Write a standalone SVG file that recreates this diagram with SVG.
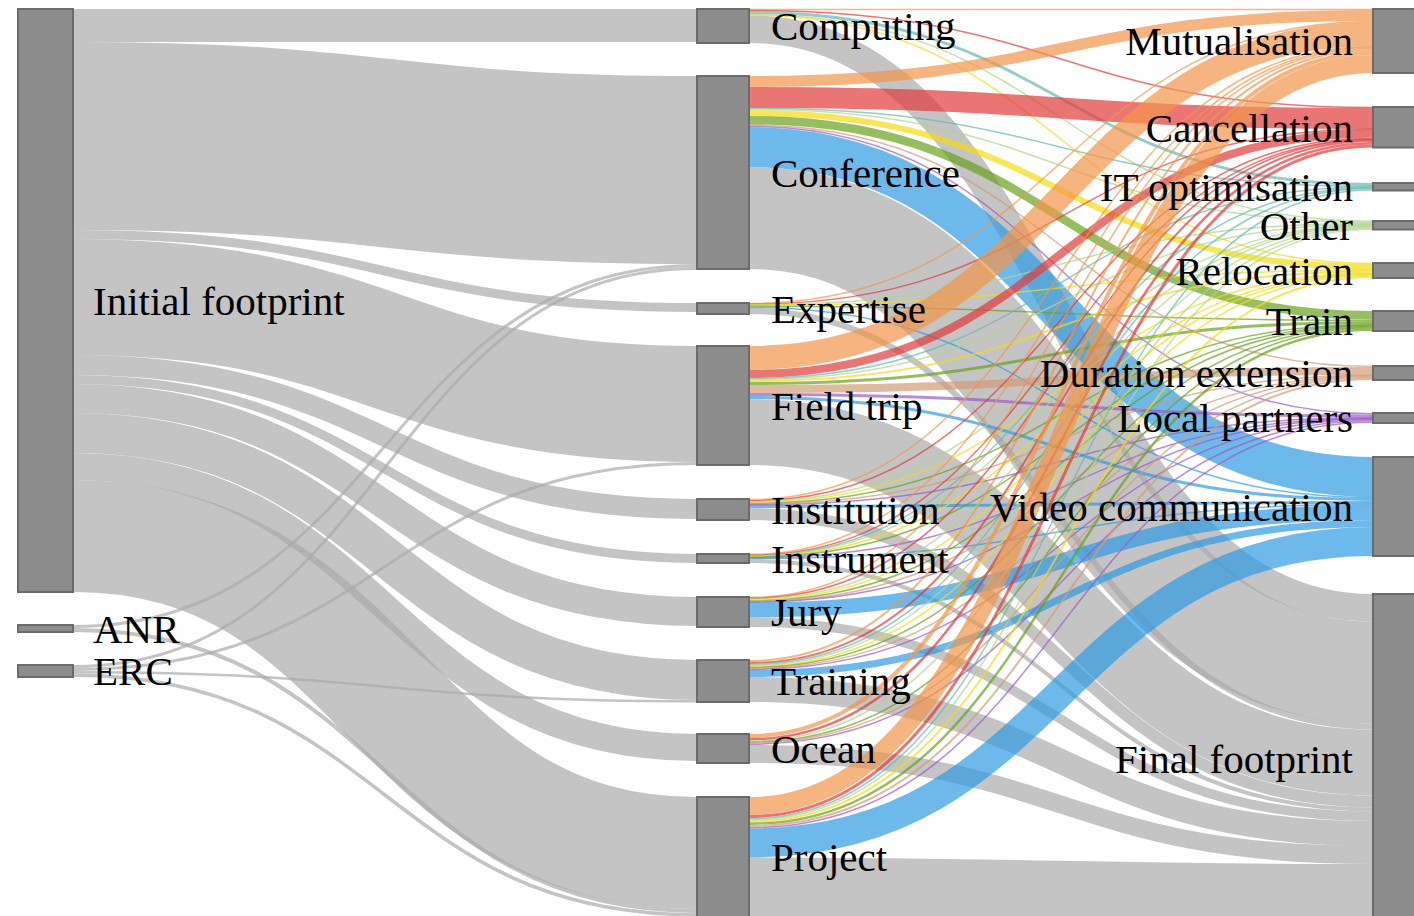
<svg xmlns="http://www.w3.org/2000/svg" width="1414" height="916" viewBox="0 0 1414 916">
<style>
.n{fill:#8c8c8c;stroke:#6b6b6b;stroke-width:2}
.l{fill:none;stroke-opacity:0.7}
.g{stroke:#ababab}
.mut{stroke:#f2964a}
.canc{stroke:#e03a3a}
.it{stroke:#69b8b1}
.oth{stroke:#b0d48d}
.rel{stroke:#f5db13}
.trn{stroke:#6aa21c}
.dur{stroke:#d19b77}
.loc{stroke:#9b5bc6}
.vid{stroke:#309be2}
text{font-family:"Liberation Serif","Times New Roman",serif;font-size:41px;fill:#000}
.e{text-anchor:end}
</style>
<rect width="1414" height="916" fill="#fff"/>
<g id="links">
<path class="l g" stroke-width="33" d="M73,25.5C385,25.5 385,25.5 697,25.5"/>
<path class="l g" stroke-width="188" d="M73,136C385,136 385,170 697,170"/>
<path class="l g" stroke-width="9" d="M73,234.5C385,234.5 385,307.5 697,307.5"/>
<path class="l g" stroke-width="116" d="M73,297C385,297 385,404 697,404"/>
<path class="l g" stroke-width="20" d="M73,365C385,365 385,509 697,509"/>
<path class="l g" stroke-width="9" d="M73,379.5C385,379.5 385,558.5 697,558.5"/>
<path class="l g" stroke-width="29" d="M73,398.5C385,398.5 385,611.5 697,611.5"/>
<path class="l g" stroke-width="40" d="M73,433C385,433 385,680 697,680"/>
<path class="l g" stroke-width="27" d="M73,466.5C385,466.5 385,747.5 697,747.5"/>
<path class="l g" stroke-width="112" d="M73,536C385,536 385,853 697,853"/>
<path class="l g" stroke-width="3" d="M73,626.5C385,626.5 385,265.5 697,265.5"/>
<path class="l g" stroke-width="4" d="M73,630C385,630 385,911 697,911"/>
<path class="l g" stroke-width="3" d="M73,666.5C385,666.5 385,268.5 697,268.5"/>
<path class="l g" stroke-width="3" d="M73,669.5C385,669.5 385,463.5 697,463.5"/>
<path class="l g" stroke-width="2.5" d="M73,672.25C385,672.25 385,701.25 697,701.25"/>
<path class="l g" stroke-width="3.5" d="M73,675.25C385,675.25 385,914.75 697,914.75"/>

<path class="l mut" stroke-width="1.5" d="M749,9.5C1061,9.5 1061,9.5 1373,9.5"/>
<path class="l canc" stroke-width="1.5" d="M749,10.5C1061,10.5 1061,107.5 1373,107.5"/>
<path class="l it" stroke-width="3" d="M749,12.5C1061,12.5 1061,184.5 1373,184.5"/>
<path class="l oth" stroke-width="1.5" d="M749,14.25C1061,14.25 1061,221.25 1373,221.25"/>
<path class="l rel" stroke-width="1.5" d="M749,15C1061,15 1061,263.5 1373,263.5"/>
<path class="l g" stroke-width="27.5" d="M749,29.25C1061,29.25 1061,607.75 1373,607.75"/>

<path class="l mut" stroke-width="11" d="M749,81.5C1061,81.5 1061,15.5 1373,15.5"/>
<path class="l canc" stroke-width="21" d="M749,97.5C1061,97.5 1061,118.5 1373,118.5"/>
<path class="l it" stroke-width="1.5" d="M749,108.25C1061,108.25 1061,186.25 1373,186.25"/>
<path class="l oth" stroke-width="1.5" d="M749,109.25C1061,109.25 1061,222.25 1373,222.25"/>
<path class="l rel" stroke-width="6" d="M749,113C1061,113 1061,267 1373,267"/>
<path class="l trn" stroke-width="8.5" d="M749,120.25C1061,120.25 1061,315.25 1373,315.25"/>
<path class="l dur" stroke-width="1.5" d="M749,125C1061,125 1061,366.5 1373,366.5"/>
<path class="l loc" stroke-width="1.5" d="M749,126.25C1061,126.25 1061,413.75 1373,413.75"/>
<path class="l vid" stroke-width="40" d="M749,147C1061,147 1061,477 1373,477"/>
<path class="l g" stroke-width="102" d="M749,218C1061,218 1061,672.5 1373,672.5"/>

<path class="l mut" stroke-width="1.5" d="M749,303.5C1061,303.5 1061,21.5 1373,21.5"/>
<path class="l canc" stroke-width="1.5" d="M749,304.25C1061,304.25 1061,129.25 1373,129.25"/>
<path class="l oth" stroke-width="1.5" d="M749,304.75C1061,304.75 1061,223.25 1373,223.25"/>
<path class="l rel" stroke-width="1.5" d="M749,305.25C1061,305.25 1061,270.25 1373,270.25"/>
<path class="l trn" stroke-width="1.5" d="M749,306.25C1061,306.25 1061,320.25 1373,320.25"/>
<path class="l vid" stroke-width="1.5" d="M749,307.5C1061,307.5 1061,497.5 1373,497.5"/>
<path class="l g" stroke-width="6" d="M749,311C1061,311 1061,726.5 1373,726.5"/>

<path class="l mut" stroke-width="24" d="M749,358C1061,358 1061,34 1373,34"/>
<path class="l canc" stroke-width="8" d="M749,374C1061,374 1061,133.5 1373,133.5"/>
<path class="l it" stroke-width="1.5" d="M749,378.5C1061,378.5 1061,187 1373,187"/>
<path class="l oth" stroke-width="1.5" d="M749,379.5C1061,379.5 1061,224 1373,224"/>
<path class="l rel" stroke-width="2" d="M749,381C1061,381 1061,271.5 1373,271.5"/>
<path class="l trn" stroke-width="3" d="M749,383.5C1061,383.5 1061,322.5 1373,322.5"/>
<path class="l dur" stroke-width="8" d="M749,389C1061,389 1061,371 1373,371"/>
<path class="l loc" stroke-width="3" d="M749,394.5C1061,394.5 1061,416 1373,416"/>
<path class="l vid" stroke-width="3" d="M749,397.5C1061,397.5 1061,499.5 1373,499.5"/>
<path class="l g" stroke-width="66" d="M749,432C1061,432 1061,762.5 1373,762.5"/>

<path class="l mut" stroke-width="1.5" d="M749,499.5C1061,499.5 1061,46.5 1373,46.5"/>
<path class="l canc" stroke-width="1.5" d="M749,500.75C1061,500.75 1061,138.25 1373,138.25"/>
<path class="l oth" stroke-width="1.5" d="M749,501.75C1061,501.75 1061,224.75 1373,224.75"/>
<path class="l rel" stroke-width="1.5" d="M749,502.5C1061,502.5 1061,273 1373,273"/>
<path class="l trn" stroke-width="1.5" d="M749,503.5C1061,503.5 1061,324.5 1373,324.5"/>
<path class="l dur" stroke-width="1.5" d="M749,504.25C1061,504.25 1061,375.25 1373,375.25"/>
<path class="l loc" stroke-width="1.5" d="M749,504.75C1061,504.75 1061,417.75 1373,417.75"/>
<path class="l vid" stroke-width="3" d="M749,506.5C1061,506.5 1061,502.5 1373,502.5"/>
<path class="l g" stroke-width="12" d="M749,514C1061,514 1061,801.5 1373,801.5"/>

<path class="l mut" stroke-width="1.5" d="M749,554.5C1061,554.5 1061,47.5 1373,47.5"/>
<path class="l canc" stroke-width="1.5" d="M749,555.25C1061,555.25 1061,139.25 1373,139.25"/>
<path class="l it" stroke-width="1.5" d="M749,555.75C1061,555.75 1061,187.75 1373,187.75"/>
<path class="l oth" stroke-width="1.5" d="M749,556.25C1061,556.25 1061,225.25 1373,225.25"/>
<path class="l rel" stroke-width="1.5" d="M749,556.75C1061,556.75 1061,273.75 1373,273.75"/>
<path class="l trn" stroke-width="1.5" d="M749,557.25C1061,557.25 1061,325.25 1373,325.25"/>
<path class="l loc" stroke-width="1.5" d="M749,557.75C1061,557.75 1061,418.25 1373,418.25"/>
<path class="l vid" stroke-width="1.5" d="M749,558.5C1061,558.5 1061,504.5 1373,504.5"/>
<path class="l g" stroke-width="4" d="M749,561C1061,561 1061,809.5 1373,809.5"/>

<path class="l mut" stroke-width="1.5" d="M749,597.5C1061,597.5 1061,48.5 1373,48.5"/>
<path class="l canc" stroke-width="1.5" d="M749,598.25C1061,598.25 1061,139.75 1373,139.75"/>
<path class="l oth" stroke-width="1.5" d="M749,599C1061,599 1061,226 1373,226"/>
<path class="l rel" stroke-width="1.5" d="M749,600C1061,600 1061,274.5 1373,274.5"/>
<path class="l trn" stroke-width="1.5" d="M749,601C1061,601 1061,326 1373,326"/>
<path class="l dur" stroke-width="1.5" d="M749,601.75C1061,601.75 1061,375.75 1373,375.75"/>
<path class="l loc" stroke-width="1.5" d="M749,602.25C1061,602.25 1061,418.75 1373,418.75"/>
<path class="l vid" stroke-width="15" d="M749,610C1061,610 1061,512.5 1373,512.5"/>
<path class="l g" stroke-width="9.5" d="M749,622.25C1061,622.25 1061,816.25 1373,816.25"/>

<path class="l mut" stroke-width="2" d="M749,661C1061,661 1061,50 1373,50"/>
<path class="l canc" stroke-width="2" d="M749,663C1061,663 1061,141 1373,141"/>
<path class="l it" stroke-width="1.5" d="M749,664.5C1061,664.5 1061,188.5 1373,188.5"/>
<path class="l oth" stroke-width="1.5" d="M749,665.5C1061,665.5 1061,227 1373,227"/>
<path class="l rel" stroke-width="1.5" d="M749,666.5C1061,666.5 1061,275.5 1373,275.5"/>
<path class="l trn" stroke-width="1.5" d="M749,667.5C1061,667.5 1061,327 1373,327"/>
<path class="l dur" stroke-width="1.5" d="M749,668.5C1061,668.5 1061,376.5 1373,376.5"/>
<path class="l loc" stroke-width="1.5" d="M749,669.5C1061,669.5 1061,419.5 1373,419.5"/>
<path class="l vid" stroke-width="7" d="M749,673.5C1061,673.5 1061,523.5 1373,523.5"/>
<path class="l g" stroke-width="25" d="M749,689.5C1061,689.5 1061,833.5 1373,833.5"/>

<path class="l mut" stroke-width="4" d="M749,736C1061,736 1061,53 1373,53"/>
<path class="l canc" stroke-width="2.5" d="M749,739.25C1061,739.25 1061,143.25 1373,143.25"/>
<path class="l oth" stroke-width="1.5" d="M749,741C1061,741 1061,228 1373,228"/>
<path class="l trn" stroke-width="1.5" d="M749,742C1061,742 1061,328 1373,328"/>
<path class="l dur" stroke-width="1.5" d="M749,743C1061,743 1061,377.5 1373,377.5"/>
<path class="l loc" stroke-width="1.5" d="M749,744.25C1061,744.25 1061,420.75 1373,420.75"/>
<path class="l g" stroke-width="18" d="M749,754C1061,754 1061,855 1373,855"/>

<path class="l mut" stroke-width="18" d="M749,806C1061,806 1061,64 1373,64"/>
<path class="l canc" stroke-width="3" d="M749,816.5C1061,816.5 1061,146 1373,146"/>
<path class="l it" stroke-width="1.5" d="M749,818.75C1061,818.75 1061,189.75 1373,189.75"/>
<path class="l oth" stroke-width="1.5" d="M749,820C1061,820 1061,229 1373,229"/>
<path class="l rel" stroke-width="2" d="M749,821.5C1061,821.5 1061,277 1373,277"/>
<path class="l trn" stroke-width="2.5" d="M749,823.75C1061,823.75 1061,329.75 1373,329.75"/>
<path class="l dur" stroke-width="2" d="M749,826C1061,826 1061,379 1373,379"/>
<path class="l loc" stroke-width="1.5" d="M749,827.75C1061,827.75 1061,422.25 1373,422.25"/>
<path class="l vid" stroke-width="29" d="M749,843C1061,843 1061,541.5 1373,541.5"/>
<path class="l g" stroke-width="59.5" d="M749,887.25C1061,887.25 1061,893.75 1373,893.75"/>
</g>

<g id="node-initial"><rect class="n" x="18" y="9" width="55" height="583"/><text x="93" y="315">Initial footprint</text></g>
<g id="node-anr"><rect class="n" x="18" y="625" width="55" height="7"/><text x="93" y="643">ANR</text></g>
<g id="node-erc"><rect class="n" x="18" y="665" width="55" height="12"/><text x="93" y="685">ERC</text></g>

<g id="node-computing"><rect class="n" x="697" y="9" width="52" height="34"/><text x="771" y="40">Computing</text></g>
<g id="node-conference"><rect class="n" x="697" y="76" width="52" height="193"/><text x="771" y="187">Conference</text></g>
<g id="node-expertise"><rect class="n" x="697" y="303" width="52" height="11"/><text x="771" y="323">Expertise</text></g>
<g id="node-fieldtrip"><rect class="n" x="697" y="346" width="52" height="119"/><text x="771" y="420">Field trip</text></g>
<g id="node-institution"><rect class="n" x="697" y="499" width="52" height="21"/><text x="771" y="524">Institution</text></g>
<g id="node-instrument"><rect class="n" x="697" y="554" width="52" height="9"/><text x="771" y="573">Instrument</text></g>
<g id="node-jury"><rect class="n" x="697" y="597" width="52" height="30"/><text x="771" y="626">Jury</text></g>
<g id="node-training"><rect class="n" x="697" y="660" width="52" height="42"/><text x="771" y="695">Training</text></g>
<g id="node-ocean"><rect class="n" x="697" y="734" width="52" height="29"/><text x="771" y="763">Ocean</text></g>
<g id="node-project"><rect class="n" x="697" y="797" width="52" height="120"/><text x="771" y="871">Project</text></g>

<g id="node-mutualisation"><rect class="n" x="1373" y="9" width="52" height="64"/><text class="e" x="1353" y="55">Mutualisation</text></g>
<g id="node-cancellation"><rect class="n" x="1373" y="107" width="52" height="40.5"/><text class="e" x="1353" y="141.5">Cancellation</text></g>
<g id="node-itoptimisation"><rect class="n" x="1373" y="183" width="52" height="7.5"/><text class="e" x="1353" y="201">IT optimisation</text></g>
<g id="node-other"><rect class="n" x="1373" y="221" width="52" height="8.5"/><text class="e" x="1353" y="239.5">Other</text></g>
<g id="node-relocation"><rect class="n" x="1373" y="263" width="52" height="15"/><text class="e" x="1353" y="285">Relocation</text></g>
<g id="node-train"><rect class="n" x="1373" y="311" width="52" height="20"/><text class="e" x="1353" y="335">Train</text></g>
<g id="node-duration"><rect class="n" x="1373" y="366" width="52" height="14"/><text class="e" x="1353" y="387">Duration extension</text></g>
<g id="node-localpartners"><rect class="n" x="1373" y="413" width="52" height="10"/><text class="e" x="1353" y="432">Local partners</text></g>
<g id="node-video"><rect class="n" x="1373" y="457" width="52" height="99"/><text class="e" x="1353" y="521">Video communication</text></g>
<g id="node-final"><rect class="n" x="1373" y="594" width="52" height="329.5"/><text class="e" x="1353" y="773">Final footprint</text></g>
</svg>
